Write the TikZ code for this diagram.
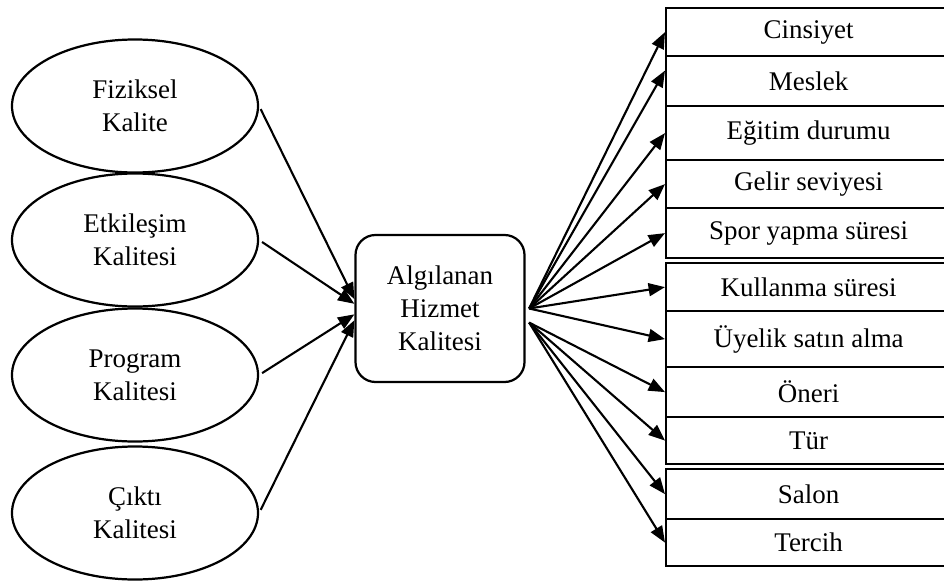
\documentclass[tikz,border=0pt]{standalone}
\usepackage{fontspec}
\setmainfont{Liberation Serif}
\usetikzlibrary{arrows.meta,shapes.geometric}

\begin{document}
\begin{tikzpicture}[
  x=0.03cm, y=-0.03cm,
  every node/.style={font=\fontsize{23}{28}\selectfont},
  factor/.style={draw, ellipse, line width=1.9pt, minimum width=7.38cm,
    minimum height=3.99cm, align=center, inner sep=0pt},
  central/.style={draw, rounded corners=0.6cm, line width=1.9pt,
    minimum width=5.07cm, minimum height=4.41cm, align=center},
  var/.style={draw, fill=white, line width=1.9pt, minimum width=8.55cm,
    anchor=north west, inner sep=0pt},
  arrow/.style={-{Triangle[length=14pt,width=11pt]}, line width=1.8pt}
]
  \useasboundingbox (0,0) rectangle (944,581);

  % Boyutlar (sol)
  \node[factor] (fiziksel)  at (135,106) {Fiziksel\\Kalite};
  \node[factor] (etkilesim) at (135,240) {Etkileşim\\Kalitesi};
  \node[factor] (program)   at (135,375) {Program\\Kalitesi};
  \node[factor] (cikti)     at (135,513) {Çıktı\\Kalitesi};

  % Merkez
  \node[central] (hizmet) at (440,308.5) {Algılanan\\Hizmet\\Kalitesi};

  % Degiskenler (sag)
  \node[var, minimum height=1.44cm] (cinsiyet) at (665,7)   {Cinsiyet};
  \node[var, minimum height=1.50cm] (meslek)   at (665,55)  {Meslek};
  \node[var, minimum height=1.62cm] (egitim)   at (665,105) {Eğitim durumu};
  \node[var, minimum height=1.44cm] (gelir)    at (665,159) {Gelir seviyesi};
  \node[var, minimum height=1.50cm] (spor)     at (665,207) {Spor yapma süresi};
  \node[var, minimum height=1.44cm] (kullanma) at (665,262) {Kullanma süresi};
  \node[var, minimum height=1.68cm] (uyelik)   at (665,310) {Üyelik satın alma};
  \node[var, minimum height=1.50cm] (oneri)    at (665,366) {Öneri};
  \node[var, minimum height=1.41cm] (tur)      at (665,416) {Tür};
  \node[var, minimum height=1.50cm] (salon)    at (665,468) {Salon};
  \node[var, minimum height=1.41cm] (tercih)   at (665,518) {Tercih};

  % Girisler
  \draw[arrow, shorten <=3pt] (fiziksel.east)  -- ([yshift=8pt]hizmet.west);
  \draw[arrow, shorten <=3pt] (etkilesim.east) -- ([yshift=4pt]hizmet.west);
  \draw[arrow, shorten <=3pt] (program.east)   -- ([yshift=-5pt]hizmet.west);
  \draw[arrow, shorten <=3pt] (cikti.east)     -- ([yshift=-10pt]hizmet.west);

  % Cikislar
  \draw[arrow] ([xshift=3pt]hizmet.east) -- (cinsiyet.west);
  \draw[arrow] ([xshift=3pt]hizmet.east) -- ([yshift=9pt]meslek.west);
  \draw[arrow] ([xshift=3pt]hizmet.east) -- (egitim.west);
  \draw[arrow] ([xshift=3pt]hizmet.east) -- (gelir.west);
  \draw[arrow] ([xshift=3pt]hizmet.east) -- (spor.west);
  \draw[arrow] ([xshift=3pt]hizmet.east) -- (kullanma.west);
  \draw[arrow] ([xshift=3pt]hizmet.east) -- (uyelik.west);
  \draw[arrow] ([xshift=3pt,yshift=-12pt]hizmet.east) -- (oneri.west);
  \draw[arrow] ([xshift=3pt,yshift=-12pt]hizmet.east) -- (tur.west);
  \draw[arrow] ([xshift=3pt,yshift=-12pt]hizmet.east) -- (salon.west);
  \draw[arrow] ([xshift=3pt,yshift=-12pt]hizmet.east) -- (tercih.west);
\end{tikzpicture}
\end{document}
